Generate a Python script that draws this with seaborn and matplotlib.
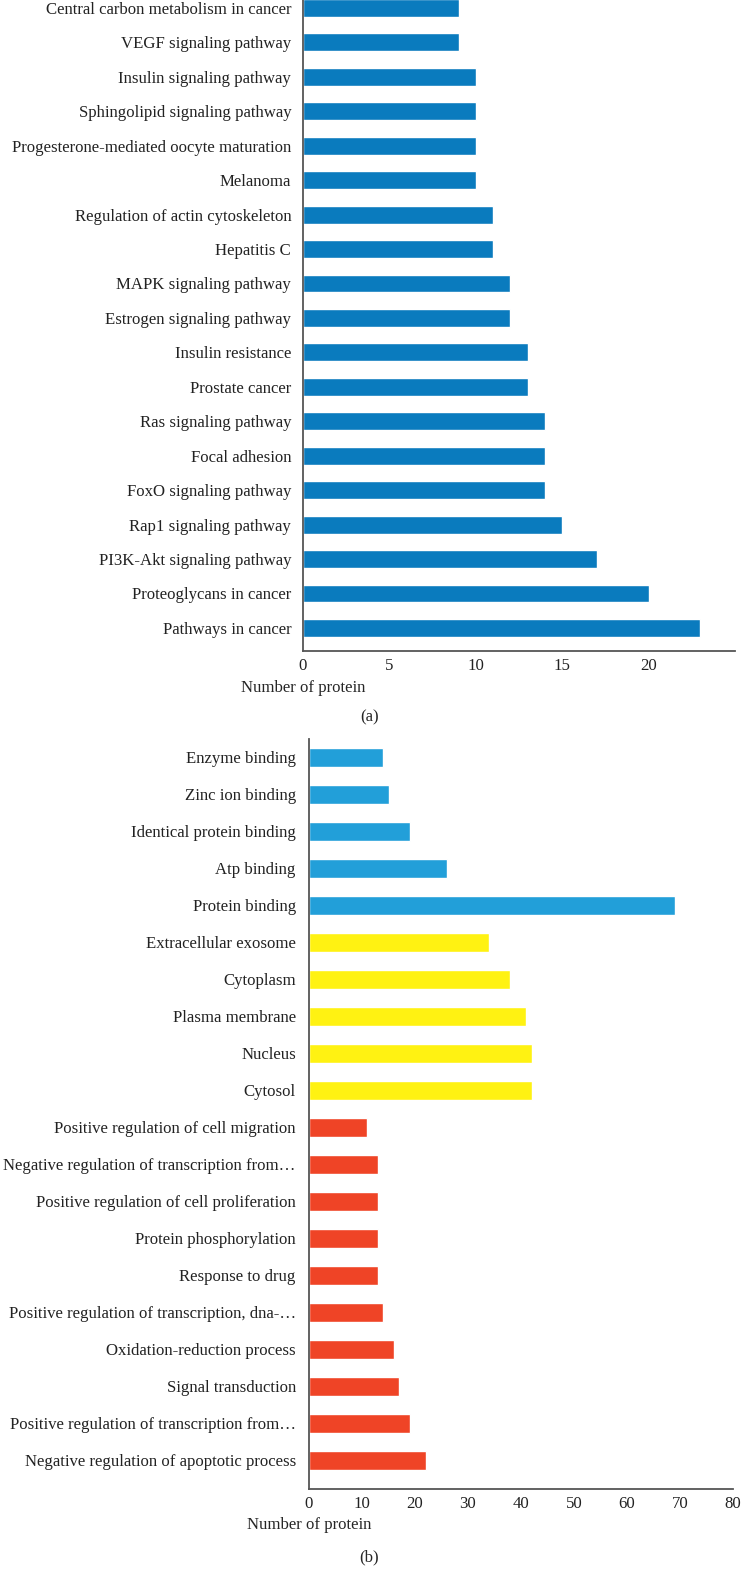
import matplotlib
matplotlib.use('Agg')
import matplotlib.pyplot as plt
import seaborn as sns
import pandas as pd

# (a) KEGG pathways
kegg_terms = ['Central carbon metabolism in cancer', 'VEGF signaling pathway',
              'Insulin signaling pathway', 'Sphingolipid signaling pathway',
              'Progesterone-mediated oocyte maturation', 'Melanoma',
              'Regulation of actin cytoskeleton', 'Hepatitis C',
              'MAPK signaling pathway', 'Estrogen signaling pathway',
              'Insulin resistance', 'Prostate cancer', 'Ras signaling pathway',
              'Focal adhesion', 'FoxO signaling pathway', 'Rap1 signaling pathway',
              'PI3K-Akt signaling pathway', 'Proteoglycans in cancer',
              'Pathways in cancer']
kegg_counts = [9, 9, 10, 10, 10, 10, 11, 11, 12, 12, 13, 13, 14, 14, 14, 15, 17, 20, 23]

# (b) GO terms
go_terms = ['Enzyme binding', 'Zinc ion binding', 'Identical protein binding',
            'Atp binding', 'Protein binding',
            'Extracellular exosome', 'Cytoplasm', 'Plasma membrane', 'Nucleus', 'Cytosol',
            'Positive regulation of cell migration',
            'Negative regulation of transcription from…',
            'Positive regulation of cell proliferation',
            'Protein phosphorylation', 'Response to drug',
            'Positive regulation of transcription, dna-…',
            'Oxidation-reduction process', 'Signal transduction',
            'Positive regulation of transcription from…',
            'Negative regulation of apoptotic process']
go_counts = [14, 15, 19, 26, 69, 34, 38, 41, 42, 42, 11, 13, 13, 13, 13, 14, 16, 17, 19, 22]
go_groups = ['MF'] * 5 + ['CC'] * 5 + ['BP'] * 10

sns.set_style('white')
plt.rcParams['font.family'] = ['Liberation Serif', 'DejaVu Serif']
FS = 12.1

fig = plt.figure(figsize=(7.43, 15.79), dpi=100)

def style_axes(ax, xmax, ticks, label_y, ypad):
    ax.set_xlim(0, xmax)
    ax.set_xticks(ticks)
    ax.set_ylabel('')
    ax.set_xlabel('Number of protein', fontsize=FS)
    ax.xaxis.set_label_coords(0, label_y)
    ax.xaxis.label.set_horizontalalignment('center')
    ax.xaxis.label.set_verticalalignment('center')
    ax.tick_params(axis='both', length=0, labelsize=FS, colors='#222222')
    ax.tick_params(axis='y', pad=ypad)
    ax.tick_params(axis='x', pad=5)
    for s in ['top', 'right']:
        ax.spines[s].set_visible(False)
    for s in ['left', 'bottom']:
        ax.spines[s].set_color('#555555')
        ax.spines[s].set_linewidth(1.3)

# panel (a)
ax1 = fig.add_axes([303 / 743, 1 - 651 / 1579, 432 / 743, 651 / 1579])
df_a = pd.DataFrame({'term': kegg_terms, 'count': kegg_counts})
sns.barplot(data=df_a, x='count', y='term', color='#0A7BBE', saturation=1,
            width=0.52, ax=ax1)
ax1.set_ylim(18.67, -0.23)
style_axes(ax1, 25, [0, 5, 10, 15, 20], -37 / 651, 8.5)
fig.text(370 / 743, 1 - 717 / 1579, '(a)', ha='center', va='center', fontsize=FS)

# panel (b)
ax2 = fig.add_axes([309 / 743, 1 - 1489 / 1579, 424 / 743, 750 / 1579])
df_b = pd.DataFrame({'term': go_terms, 'count': go_counts, 'group': go_groups})
sns.barplot(data=df_b, x='count', y='term', hue='group',
            palette={'MF': '#229FD9', 'CC': '#FFF212', 'BP': '#EF4426'},
            saturation=1, width=0.52, dodge=False, legend=False, ax=ax2)
ax2.set_ylim(19.78, -0.49)
style_axes(ax2, 80, list(range(0, 81, 10)), -36 / 750, 9.5)
fig.text(369 / 743, 1 - 1557 / 1579, '(b)', ha='center', va='center', fontsize=FS)

fig.savefig('out.png', dpi=100)
